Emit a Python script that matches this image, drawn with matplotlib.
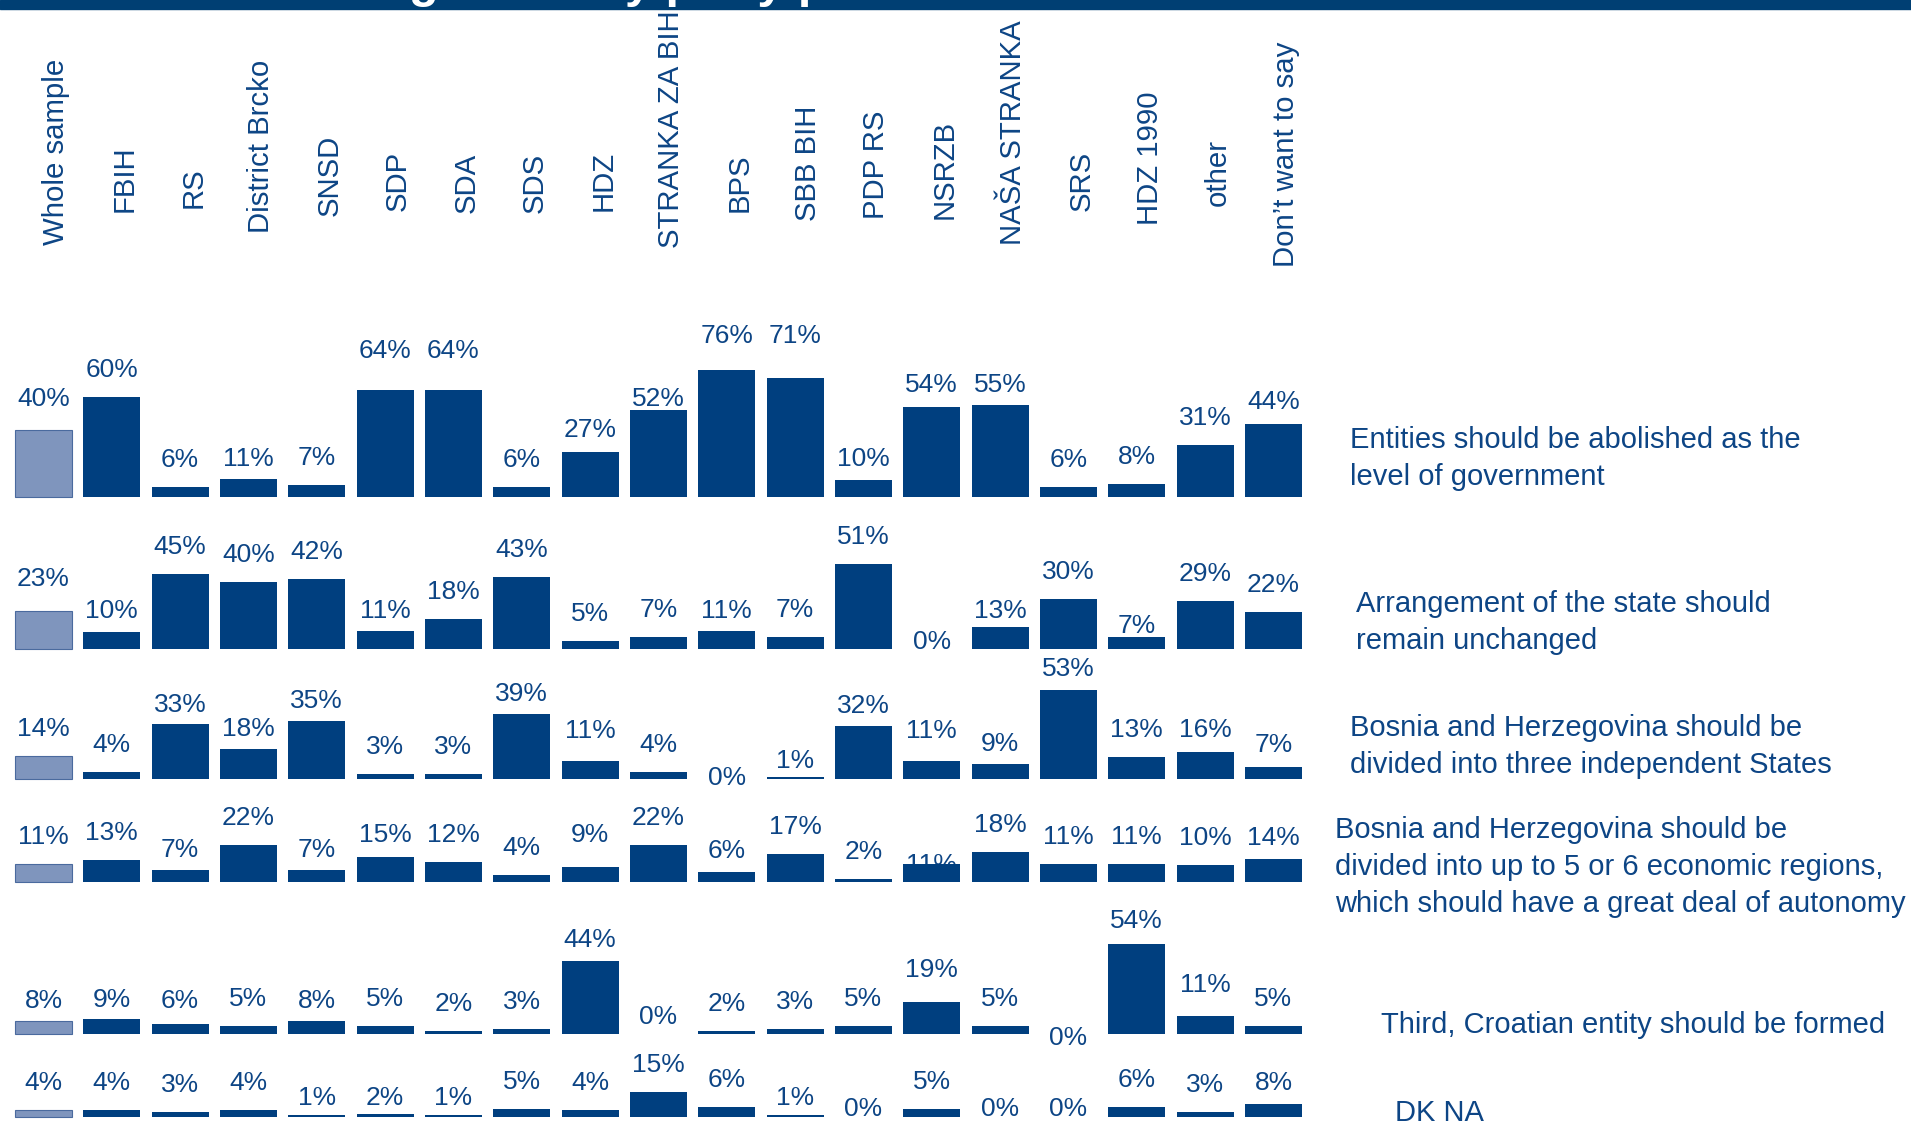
import matplotlib.pyplot as plt
from matplotlib.patches import Rectangle

plt.rcParams['font.family'] = ['Liberation Sans', 'DejaVu Sans']

# data
parties = ["Whole sample", "FBIH", "RS", "District Brcko", "SNSD", "SDP", "SDA", "SDS",
           "HDZ", "STRANKA ZA BIH", "BPS", "SBB BIH", "PDP RS", "NSRZB", "NAŠA STRANKA",
           "SRS", "HDZ 1990", "other", "Don’t want to say"]

statements = ["Entities should be abolished as the\nlevel of government",
              "Arrangement of the state should\nremain unchanged",
              "Bosnia and Herzegovina should be\ndivided into three independent States",
              "Bosnia and Herzegovina should be\ndivided into up to 5 or 6 economic regions,\nwhich should have a great deal of autonomy",
              "Third, Croatian entity should be formed",
              "DK NA"]

abolish_entities = [40, 60, 6, 11, 7, 64, 64, 6, 27, 52, 76, 71, 10, 54, 55, 6, 8, 31, 44]
unchanged = [23, 10, 45, 40, 42, 11, 18, 43, 5, 7, 11, 7, 51, 0, 13, 30, 7, 29, 22]
three_states = [14, 4, 33, 18, 35, 3, 3, 39, 11, 4, 0, 1, 32, 11, 9, 53, 13, 16, 7]
econ_regions = [11, 13, 7, 22, 7, 15, 12, 4, 9, 22, 6, 17, 2, 11, 18, 11, 11, 10, 14]
croat_entity = [8, 9, 6, 5, 8, 5, 2, 3, 44, 0, 2, 3, 5, 19, 5, 0, 54, 11, 5]
dk_na = [4, 4, 3, 4, 1, 2, 1, 5, 4, 15, 6, 1, 0, 5, 0, 0, 6, 3, 8]

rows = [abolish_entities, unchanged, three_states, econ_regions, croat_entity, dk_na]

title = "Attitudes towards the state arrangement by party preference"

# layout (pixels from top of a 1911x1124 canvas)
W, H = 1911, 1124
PX = 1.67            # pixels per percentage point
X0, DX = 43.5, 68.33  # first bar centre, bar spacing
row_base_px = [497, 649, 779, 882, 1034, 1117]
head_bottom_px = [245, 212, 208, 233, 216, 211, 213, 213, 211, 248,
                  212, 221, 219, 219, 245, 211, 225, 206, 267]
stmt_pos_px = [(1350, 426), (1356, 590), (1350, 714), (1335, 816), (1381, 1011), (1395, 1099)]
# hand-placed labels in the original: (row, column) -> px moved down
nudge_px = {(0, 0): -4, (0, 3): 7, (0, 5): -12, (0, 6): -12, (0, 8): 5, (0, 9): 16,
            (0, 10): -7, (0, 11): -15, (0, 12): 6, (0, 13): 5, (0, 14): 7, (0, 18): 5,
            (1, 0): -5, (1, 1): 6, (1, 5): 7, (1, 10): 7, (1, 13): 20, (1, 14): 11,
            (1, 16): 16,
            (2, 2): 8, (2, 3): 7, (2, 4): 7, (2, 7): 7, (2, 8): -3, (2, 10): 26, (2, 11): 11,
            (2, 12): 7, (2, 13): -3, (2, 14): 7, (2, 15): 6, (2, 17): 5, (2, 18): 5,
            (3, 2): 7, (3, 4): 7, (3, 5): 5, (3, 8): -5, (3, 10): 6, (3, 13): 28,
            (3, 18): 6,
            (4, 0): 7, (4, 1): 8, (4, 2): 4, (4, 4): 7, (4, 8): 6, (4, 9): 10, (4, 13): -5,
            (4, 15): 31, (4, 16): 4, (4, 17): -4,
            (5, 4): 10, (5, 5): 11, (5, 6): 10, (5, 11): 10, (5, 12): 19, (5, 14): 19,
            (5, 15): 19, (5, 18): 6}

navy = '#003f7f'
light = '#7f95bd'
txt = '#0d4585'

fig = plt.figure(figsize=(W / 100, H / 100), dpi=100)
ax = fig.add_axes([0, 0, 1, 1])
ax.set_xlim(-X0 / DX, (W - X0) / DX)
ax.set_ylim(0, H / PX)
ax.axis('off')

x = list(range(len(parties)))
for r, vals in enumerate(rows):
    base = (H - row_base_px[r]) / PX
    # whole sample in a lighter shade with an outline
    ax.bar(x[:1], vals[:1], width=0.834, bottom=base, color=light,
           edgecolor='#4a6a9e', linewidth=0.8, zorder=3)
    ax.bar(x[1:], vals[1:], width=0.834, bottom=base, color=navy,
           linewidth=0, zorder=3)
    for i, v in enumerate(vals):
        y = base + v + (20 - nudge_px.get((r, i), 0)) / PX
        ax.text(i, y, f"{v}%", ha='center', va='baseline', fontsize=19,
                color=txt, zorder=2)

# column headers
for i, name in enumerate(parties):
    ax.text(i - 1 / DX, (H - head_bottom_px[i]) / PX, name, rotation=90,
            ha='left', va='bottom', fontsize=21.2, color=txt)

# statements on the right
for s, (px, py) in zip(statements, stmt_pos_px):
    fig.text(px / W, 1 - py / H, s, ha='left', va='top', fontsize=21,
             color=txt, linespacing=1.4)

# title banner, mostly cut off at the top
fig.add_artist(Rectangle((0, 1 - 8.5 / H), 1, 8.5 / H, transform=fig.transFigure,
                         color='#003f73', zorder=5))
fig.text(1046 / W, 1 + 3 / H, title, ha='right', va='baseline', fontsize=35,
         fontweight='bold', color='white', zorder=6)

fig.savefig('out.png', dpi=100)
